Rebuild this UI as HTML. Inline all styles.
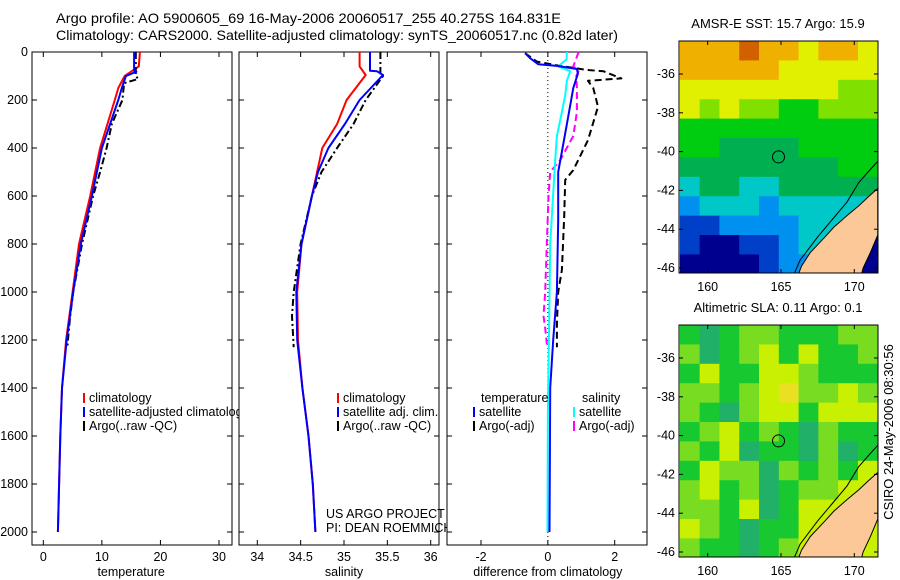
<!DOCTYPE html>
<html><head><meta charset="utf-8">
<style>
html,body{margin:0;padding:0;background:#fff;}
svg{display:block;font-family:"Liberation Sans",sans-serif;}
</style></head>
<body>
<svg id="fig" width="900" height="580" viewBox="0 0 900 580" xmlns="http://www.w3.org/2000/svg">
<text x="56" y="23" font-size="14" textLength="505" lengthAdjust="spacingAndGlyphs">Argo profile: AO 5900605_69 16-May-2006 20060517_255 40.275S 164.831E</text>
<text x="56" y="40" font-size="14" textLength="562" lengthAdjust="spacingAndGlyphs">Climatology: CARS2000. Satellite-adjusted climatology: synTS_20060517.nc (0.82d later)</text>
<text transform="translate(893,432) rotate(-90)" text-anchor="middle" font-size="13">CSIRO 24-May-2006 08:30:56</text>
</svg>
<script>
// ---------- data ----------
const depthTicks = [0,200,400,600,800,1000,1200,1400,1600,1800,2000];
const tempTicks = [0,10,20,30];
const salTicks = [34,34.5,35,35.5,36];
const diffTicks = [-2,0,2];

const tempClimDepth = [0,60,80,100,150,200,400,600,800,1000,1200,1400,1600,1800,2000];
const tempClim      = [16.5,16.3,15.1,13.9,12.8,12.2,9.7,8.0,6.1,5.0,3.9,3.2,2.9,2.7,2.5];
const tempSatDepth  = [0,78,82,100,150,200,400,600,800,1000,1200,1400,1600,1800,2000];
const tempSat       = [15.5,15.5,15.9,14.1,13.4,12.8,10.0,8.3,6.4,5.1,4.0,3.2,2.9,2.7,2.5];
const tempArgoDepth = [0,100,112,130,200,300,400,500,600,800,1000,1100,1230];
const tempArgo      = [15.8,15.8,16.2,13.8,13.5,11.7,10.8,9.7,8.5,6.6,5.1,4.6,4.1];

const salClimDepth = [0,60,96,200,300,400,500,600,800,1000,1200,1400,1600,1800,2000];
const salClim      = [35.18,35.18,35.25,35.03,34.92,34.75,34.69,34.63,34.51,34.46,34.47,34.52,34.59,34.64,34.67];
const salSatDepth  = [0,78,80,96,200,300,400,500,600,800,1000,1200,1400,1600,1800,2000];
const salSat       = [35.30,35.30,35.38,35.45,35.18,35.01,34.82,34.70,34.63,34.51,34.45,34.46,34.52,34.59,34.64,34.67];
const salArgoDepth = [0,90,100,200,300,400,500,600,800,1000,1100,1230];
const salArgo      = [35.42,35.42,35.45,35.25,35.11,34.92,34.74,34.63,34.50,34.42,34.40,34.42];

const dTSatDepth = [5,26,51,58,71,90,150,300,500,700,1000,1200,1400,2000];
const dTSat      = [-0.68,-0.53,-0.29,0.27,0.87,0.9,0.76,0.57,0.31,0.31,0.27,0.16,0.07,0.05];
const dTArgoDepth = [5,40,55,75,80,110,120,151,228,367,492,533,686,908,1000,1130,1230];
const dTArgo      = [-0.68,-0.33,0.25,1.17,1.66,2.2,1.2,1.36,1.5,1.2,0.76,0.52,0.49,0.42,0.31,0.27,0.27];
const dSSatDepth = [0,30,60,80,120,180,250,350,450,800,1500,2000];
const dSSat      = [0.57,0.56,0.31,0.67,0.57,0.52,0.42,0.27,0.22,0.07,0.0,-0.01];
const dSArgoDepth = [0,60,80,100,150,250,350,450,500,600,800,1000,1100,1150,1230];
const dSArgo      = [0.92,0.76,0.92,0.85,0.87,0.87,0.76,0.37,0.07,0.02,-0.03,-0.08,-0.13,-0.08,-0.02];

const lonTicks = [160,165,170];
const latTicks = [-36,-38,-40,-42,-44,-46];
const sstGrid = [
 [8,8,8,9,8,8,7,8,8,7],
 [8,8,8,8,8,7,7,7,7,7],
 [7,7,7,7,7,7,7,7,6,6],
 [7,6,7,6,6,5,5,6,6,6],
 [5,5,5,5,5,5,5,5,5,5],
 [5,5,4,4,4,4,5,5,5,5],
 [4,4,4,4,4,4,4,4,5,5],
 [3,4,4,3,3,4,4,4,4,4],
 [2,3,3,3,2,3,3,3,3,3],
 [1,1,2,2,2,2,3,3,3,3],
 [1,0,0,1,1,2,3,3,3,0],
 [0,0,0,0,1,2,2,2,0,0]];
const slaGrid = [
 [1,0,1,2,2,1,1,1,2,2],
 [2,0,1,2,3,1,3,1,1,2],
 [1,3,1,1,3,3,2,1,1,1],
 [2,2,1,2,3,4,2,2,3,2],
 [2,1,0,2,3,3,1,3,3,3],
 [1,2,3,1,2,1,0,2,1,1],
 [2,1,3,0,1,1,0,2,0,1],
 [1,3,2,2,0,2,1,2,1,3],
 [2,3,1,2,0,1,2,2,3,3],
 [2,2,1,3,0,1,3,3,3,3],
 [3,2,1,0,1,1,3,3,3,3],
 [2,1,1,0,1,2,3,3,3,3]];
const landLon = [166.2,166.4,167,168,168.6,169.5,170.3,171.0,171.6,171.6,171.1,170.6,170.5];
const landLat = [-46.3,-45.9,-45.2,-44.4,-43.9,-43.3,-42.8,-42.3,-41.9,-44.3,-45.2,-46.0,-46.3];
const contourLon = [165.9,166.3,167.5,168.5,169.5,170.3,171.0,171.6];
const contourLat = [-46.3,-45.6,-44.4,-43.5,-42.6,-41.6,-41.0,-40.5];
const floatLon = 164.831, floatLat = -40.275;

const sstColors = ['#00008f','#0040c8','#0090f0','#00c8c8','#00b050','#00cc10','#80e000','#e0f000','#f0b000','#d06000'];
const slaColors = ['#20b068','#18c830','#78dc20','#c8f000','#e8e020'];

// ---------- helpers ----------
const NS='http://www.w3.org/2000/svg';
const svg=document.getElementById('fig');
function mk(tag, attrs, parent){const e=document.createElementNS(NS,tag);for(const k in attrs)e.setAttribute(k,attrs[k]);(parent||svg).appendChild(e);return e;}
const yD = d => 52 + d*0.24;
function linScale(v0,p0,v1,p1){return v=>p0+(v-v0)*(p1-p0)/(v1-v0);}
const xT = linScale(0,43.3,30,219);
const xS = linScale(34,257.3,36,430.7);
const xDf = linScale(-2,481,2,614.7);

function panel(name,x0,x1,xs,ticks,label,showY){
  const g=mk('g',{});
  
  
  const r=mk('rect',{x:x0,y:52,width:x1-x0,height:493,fill:'#fff',stroke:'#000','stroke-width':1},g);
  
  
  ticks.forEach(t=>{
    const x=xs(t);
    mk('line',{x1:x,y1:545,x2:x,y2:540,stroke:'#000'},g);
    mk('line',{x1:x,y1:52,x2:x,y2:57,stroke:'#000'},g);
    const tl=mk('text',{x:x,y:561,'font-size':12.5,'text-anchor':'middle'},g);
    tl.textContent=String(t);
    
    
  });
  depthTicks.forEach(d=>{
    const y=yD(d);
    mk('line',{x1:x0,y1:y,x2:x0+5,y2:y,stroke:'#000'},g);
    mk('line',{x1:x1,y1:y,x2:x1-5,y2:y,stroke:'#000'},g);
    if(showY){
      const tl=mk('text',{x:x0-4,y:y+4,'font-size':12.5,'text-anchor':'end'},g);
      tl.textContent=String(d);
      
      
    }
  });
  const al=mk('text',{x:(xs(ticks[0])+xs(ticks[ticks.length-1]))/2,y:576,'font-size':12.5,'text-anchor':'middle'},g);
  al.textContent=label;
  
  
  return g;
}
function line(g,xs,depths,vals,color,dash,w,name){
  const pts=depths.map((d,i)=>xs(vals[i]).toFixed(1)+','+yD(d).toFixed(1)).join(' ');
  const p=mk('polyline',{points:pts,fill:'none',stroke:color,'stroke-width':w,'stroke-dasharray':dash||'none','stroke-linejoin':'round'},g);
  
  
}
function legend(g,x,y,color,text,name){
  mk('rect',{x:x,y:y-9,width:2,height:10,fill:color},g);
  const t=mk('text',{x:x+6,y:y,'font-size':12.5},g);
  t.textContent=text;
  
  
}

// ---------- temperature panel ----------
const gT=panel('temperature',32,232,xT,tempTicks,'temperature',true);
line(gT,xT,tempClimDepth,tempClim,'#f00','',2,'temp-climatology-line');
line(gT,xT,tempArgoDepth,tempArgo,'#000','7,3,2,3',2,'temp-argo-line');
line(gT,xT,tempSatDepth,tempSat,'#00f','',2,'temp-satellite-line');
legend(gT,83,402,'#f00','climatology','legend-climatology');
legend(gT,83,416,'#00f','satellite-adjusted climatology','legend-satellite-adjusted');
legend(gT,83,430,'#000','Argo(..raw -QC)','legend-argo');

// ---------- salinity panel ----------
const gS=panel('salinity',239,439,xS,salTicks,'salinity',false);
line(gS,xS,salClimDepth,salClim,'#f00','',2,'sal-climatology-line');
line(gS,xS,salArgoDepth,salArgo,'#000','7,3,2,3',2,'sal-argo-line');
line(gS,xS,salSatDepth,salSat,'#00f','',2,'sal-satellite-line');
legend(gS,337,402,'#f00','climatology','legend-sal-climatology');
legend(gS,337,416,'#00f','satellite adj. clim.','legend-sal-satellite');
legend(gS,337,430,'#000','Argo(..raw -QC)','legend-sal-argo');
{const t=mk('text',{x:326,y:518,'font-size':12.5},gS);t.textContent='US ARGO PROJECT';


const t2=mk('text',{x:326,y:532,'font-size':12.5},gS);t2.textContent='PI: DEAN ROEMMICH';

}

// ---------- difference panel ----------
const gD=panel('difference',447,647,xDf,diffTicks,'difference from climatology',false);
mk('line',{x1:xDf(0),y1:52,x2:xDf(0),y2:545,stroke:'#000','stroke-dasharray':'1,3','stroke-width':1},gD);
line(gD,xDf,dTArgoDepth,dTArgo,'#000','7,4',2,'diff-temp-argo-line');
line(gD,xDf,dSArgoDepth,dSArgo,'#f0f','7,4',2,'diff-sal-argo-line');
line(gD,xDf,dSSatDepth,dSSat,'#0ff','',2,'diff-sal-satellite-line');
line(gD,xDf,dTSatDepth,dTSat,'#00f','',2,'diff-temp-satellite-line');
{const t=mk('text',{x:481,y:402,'font-size':12.5},gD);t.textContent='temperature';


const t2=mk('text',{x:582,y:402,'font-size':12.5},gD);t2.textContent='salinity';

}
legend(gD,473,416,'#00f','satellite','legend-temp-satellite');
legend(gD,473,430,'#000','Argo(-adj)','legend-temp-argo');
legend(gD,573,416,'#0ff','satellite','legend-sal-satellite-diff');
legend(gD,573,430,'#f0f','Argo(-adj)','legend-sal-argo-diff');

// ---------- maps ----------
const lonX = linScale(160,707.7,170,854.3);
function map(name,top,grid,colors,title){
  const latY = linScale(-36,top+33,-46,top+227);
  const g=mk('g',{});
  
  
  const clip=mk('clipPath',{id:name+'-clip'},g);
  mk('rect',{x:679,y:top,width:199,height:232},clip);
  const inner=mk('g',{'clip-path':'url(#'+name+'-clip)'},g);
  grid.forEach((row,r)=>row.forEach((v,c)=>{
    const x0=lonX(158.1+c*1.35), x1=lonX(158.1+(c+1)*1.35);
    const y0=latY(-34.3-r), y1=latY(-35.3-r);
    const cell=mk('rect',{x:x0,y:y0,width:x1-x0+0.5,height:y1-y0+0.5,fill:colors[v]},inner);
    
    
  }));
  const land=mk('polygon',{points:landLon.map((l,i)=>lonX(l)+','+latY(landLat[i])).join(' '),fill:'#fcc898',stroke:'#000','stroke-width':1},inner);
  
  
  mk('polyline',{points:contourLon.map((l,i)=>lonX(l)+','+latY(contourLat[i])).join(' '),fill:'none',stroke:'#000','stroke-width':1},inner);
  const fc=mk('circle',{cx:lonX(floatLon),cy:latY(floatLat),r:6,fill:'none',stroke:'#000','stroke-width':1},inner);
  
  
  mk('rect',{x:679,y:top,width:199,height:232,fill:'none',stroke:'#000'},g);
  lonTicks.forEach(l=>{
    const x=lonX(l);
    mk('line',{x1:x,y1:top,x2:x,y2:top+4,stroke:'#000'},g);
    mk('line',{x1:x,y1:top+232,x2:x,y2:top+228,stroke:'#000'},g);
    const t=mk('text',{x:x,y:top+250,'font-size':12.5,'text-anchor':'middle'},g);t.textContent=String(l);
    
    
  });
  latTicks.forEach(l=>{
    const y=latY(l);
    mk('line',{x1:679,y1:y,x2:683,y2:y,stroke:'#000'},g);
    mk('line',{x1:878,y1:y,x2:874,y2:y,stroke:'#000'},g);
    const t=mk('text',{x:675,y:y+4,'font-size':12.5,'text-anchor':'end'},g);t.textContent=String(l);
    
    
  });
  const tt=mk('text',{x:778,y:top-13,'font-size':13,'text-anchor':'middle'},g);tt.textContent=title;
  
  
}
map('sst-map',41,sstGrid,sstColors,'AMSR-E SST: 15.7 Argo: 15.9');
map('sla-map',325,slaGrid,slaColors,'Altimetric SLA: 0.11 Argo: 0.1');
</script>
</body></html>
